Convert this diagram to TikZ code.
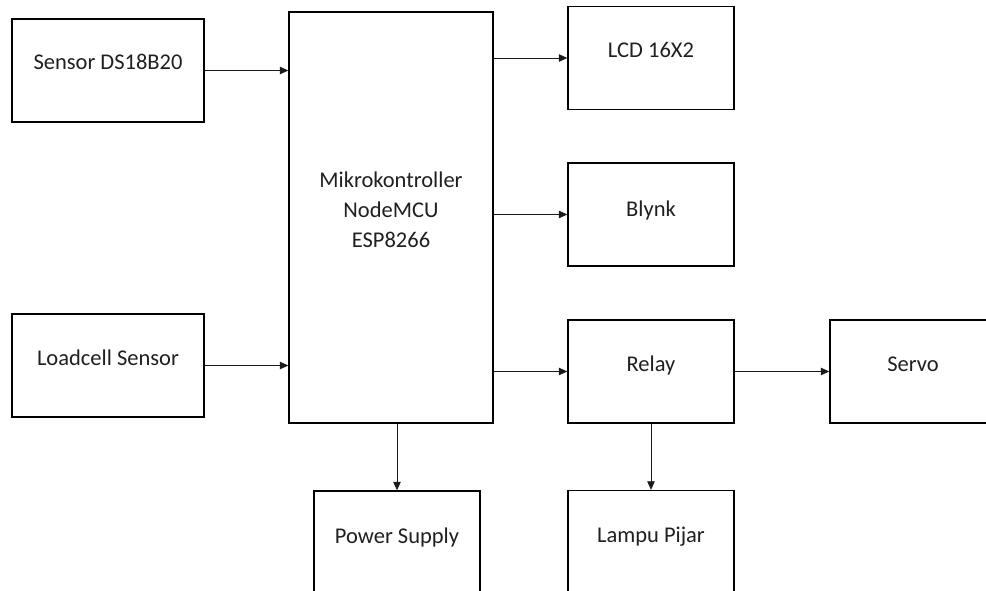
\documentclass[tikz,border=0pt]{standalone}
\usepackage{fontspec}
\setmainfont{Carlito}
\usepackage{tikz}
\usetikzlibrary{arrows.meta,positioning,calc}
\definecolor{inkdark}{HTML}{202020}
\definecolor{linegray}{HTML}{1A1A1A}
\tikzset{
  blok/.style={draw=black, line width=1.4pt, fill=white, inner sep=0pt,
    minimum width=192pt, minimum height=103pt},
  blokkecil/.style={blok, minimum width=166pt},
  teks/.style={font=\fontsize{22.5}{30}\selectfont, text=inkdark, anchor=base,
    inner sep=0pt, align=center},
  panah/.style={-{Triangle[length=8.5pt,width=7.5pt]}, line width=0.8pt, color=linegray},
}
\begin{document}
\begin{tikzpicture}[x=1pt,y=-1pt]
  \useasboundingbox (0,0) rectangle (986,591);
  \clip (0,0) rectangle (986,591);
  % left: sensors
  \node[blok] (sensor) at (108,70.5) {};
  \node[teks] (sensortxt) at (108,70) {Sensor DS18B20};
  \node[blok] (loadcell) at (108,365.5) {};
  \node[teks] (loadcelltxt) at (108,365) {Loadcell Sensor};
  % middle: controller
  \node[blok, minimum width=204pt, minimum height=411pt] (mikro) at (391,217.5) {};
  \node[teks, anchor=center] (mikrotxt) at (391,210) {Mikrokontroller\\NodeMCU\\ESP8266};
  \node[blokkecil] (power) at (397,542.5) {};
  \node[teks] (powertxt) at (397,543) {Power Supply};
  % right: outputs
  \node[blokkecil] (lcd) at (651,58) {};
  \node[teks] (lcdtxt) at (651,58) {LCD 16X2};
  \node[blokkecil] (blynk) at (651,214.5) {};
  \node[teks] (blynktxt) at (651,216) {Blynk};
  \node[blokkecil] (relay) at (651,371.5) {};
  \node[teks] (relaytxt) at (651,371) {Relay};
  \node[blokkecil] (servo) at (913,371.5) {};
  \node[teks] (servotxt) at (913,371) {Servo};
  \node[blokkecil] (lampu) at (651,542) {};
  \node[teks] (lamputxt) at (651,542) {Lampu Pijar};
  % connections
  \draw[panah] (sensor) -- (sensor -| mikro.west);
  \draw[panah] (loadcell) -- (loadcell -| mikro.west);
  \draw[panah] (mikro.east |- lcd) -- (lcd);
  \draw[panah] (mikro.east |- blynk) -- (blynk);
  \draw[panah] (mikro.east |- relay) -- (relay);
  \draw[panah] (relay) -- (servo);
  \draw[panah] (mikro.south -| power) -- (power);
  \draw[panah] (relay) -- (lampu);
\end{tikzpicture}
\end{document}
